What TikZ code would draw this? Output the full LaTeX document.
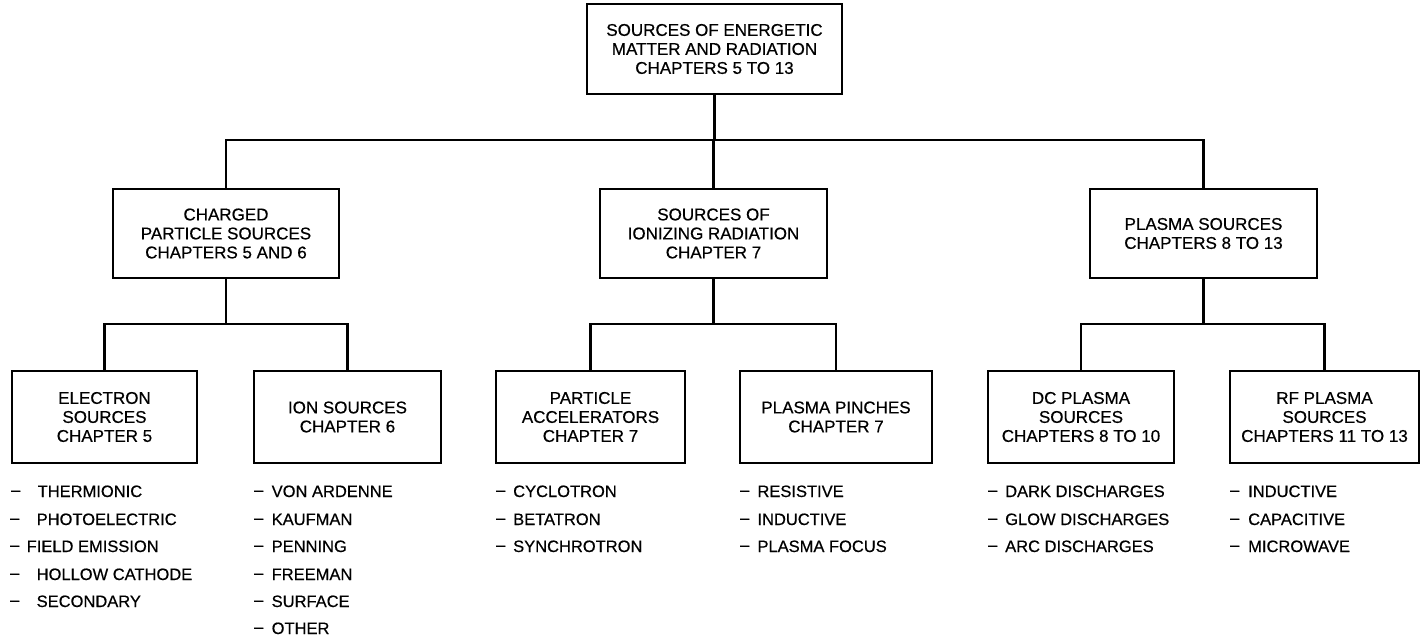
\documentclass[tikz,border=0pt]{standalone}
\usepackage{fontspec}
\setmainfont{Liberation Sans}[BoldFont=Liberation Sans, BoldFeatures={FakeBold=0.5}]
\newcommand{\itemw}[2]{\makebox[#1pt][l]{\raisebox{1.5pt}{–}}#2}
\begin{document}
\begin{tikzpicture}[x=1pt,y=-1pt,
  box/.style={draw, line width=1.6pt, inner sep=0pt, align=center,
    font=\fontsize{17}{19}\selectfont\bfseries},
  lbox/.style={box, minimum height=92pt},
  mbox/.style={box, minimum height=89pt},
  itm/.style={anchor=base west, inner sep=0pt, font=\fontsize{16.5}{18}\selectfont\bfseries},
  conn/.style={line width=2.2pt}]
\useasboundingbox (0,0) rectangle (1420,637);
\fill[white] (0,0) rectangle (1420,637);

% top
\node[box, minimum width=255pt, minimum height=90pt] (top) at (714.5,49)
  {SOURCES OF ENERGETIC\\MATTER AND RADIATION\\CHAPTERS 5 TO 13};

% level 2
\node[mbox, minimum width=226pt] (cps) at (226,233.5) {CHARGED\\PARTICLE SOURCES\\CHAPTERS 5 AND 6};
\node[mbox, minimum width=227pt] (sir) at (713.5,233.5) {SOURCES OF\\IONIZING RADIATION\\CHAPTER 7};
\node[mbox, minimum width=227pt] (pls) at (1203.5,233.5) {PLASMA SOURCES\\CHAPTERS 8 TO 13};

% level 3
\node[lbox, minimum width=185pt] (els) at (104.5,417) {ELECTRON\\SOURCES\\CHAPTER 5};
\node[lbox, minimum width=187pt] (ion) at (347.5,417) {ION SOURCES\\CHAPTER 6};
\node[lbox, minimum width=189pt] (pac) at (590.5,417) {PARTICLE\\ACCELERATORS\\CHAPTER 7};
\node[lbox, minimum width=192pt] (ppi) at (836,417) {PLASMA PINCHES\\CHAPTER 7};
\node[lbox, minimum width=186pt] (dcp) at (1081,417) {DC PLASMA\\SOURCES\\CHAPTERS 8 TO 10};
\node[lbox, minimum width=189pt] (rfp) at (1324.5,417) {RF PLASMA\\SOURCES\\CHAPTERS 11 TO 13};

% connectors
\coordinate (j1) at (714.5,140);
\draw[conn] (top.south) -- (j1);
\draw[conn] (cps.north) |- (j1) -| (pls.north);
\draw[conn] (sir.north) -- (sir.north |- j1);

\coordinate (ja) at (226,324);
\coordinate (jb) at (713.5,324);
\coordinate (jc) at (1203.5,324);
\draw[conn] (cps.south) -- (ja);
\draw[conn] (els.north) |- (ja) -| (ion.north);
\draw[conn] (sir.south) -- (jb);
\draw[conn] (pac.north) |- (jb) -| (ppi.north);
\draw[conn] (pls.south) -- (jc);
\draw[conn] (dcp.north) |- (jc) -| (rfp.north);

% lists
\node[itm] (e1) at (11,497) {\itemw{26.5}{THERMIONIC}};
\node[itm] (e2) at (10,525) {\itemw{26.5}{PHOTOELECTRIC}};
\node[itm] (e3) at (10,552) {\itemw{16.5}{FIELD EMISSION}};
\node[itm] (e4) at (10,580) {\itemw{26.5}{HOLLOW CATHODE}};
\node[itm] (e5) at (10,607) {\itemw{26.5}{SECONDARY}};

\node[itm] (i1) at (254,497) {\itemw{17.5}{VON ARDENNE}};
\node[itm] (i2) at (254,525) {\itemw{17.5}{KAUFMAN}};
\node[itm] (i3) at (254,552) {\itemw{17.5}{PENNING}};
\node[itm] (i4) at (254,580) {\itemw{17.5}{FREEMAN}};
\node[itm] (i5) at (254,607) {\itemw{17.5}{SURFACE}};
\node[itm] (i6) at (254,634) {\itemw{17.5}{OTHER}};

\node[itm] (a1) at (496,497) {\itemw{17}{CYCLOTRON}};
\node[itm] (a2) at (496,525) {\itemw{17}{BETATRON}};
\node[itm] (a3) at (496,552) {\itemw{17}{SYNCHROTRON}};

\node[itm] (p1) at (740,497) {\itemw{17.3}{RESISTIVE}};
\node[itm] (p2) at (740,525) {\itemw{17.3}{INDUCTIVE}};
\node[itm] (p3) at (740,552) {\itemw{17.3}{PLASMA FOCUS}};

\node[itm] (d1) at (988,497) {\itemw{17}{DARK DISCHARGES}};
\node[itm] (d2) at (988,525) {\itemw{17}{GLOW DISCHARGES}};
\node[itm] (d3) at (988,552) {\itemw{17}{ARC DISCHARGES}};

\node[itm] (r1) at (1230,497) {\itemw{18}{INDUCTIVE}};
\node[itm] (r2) at (1230,525) {\itemw{18}{CAPACITIVE}};
\node[itm] (r3) at (1230,552) {\itemw{18}{MICROWAVE}};
\end{tikzpicture}
\end{document}
